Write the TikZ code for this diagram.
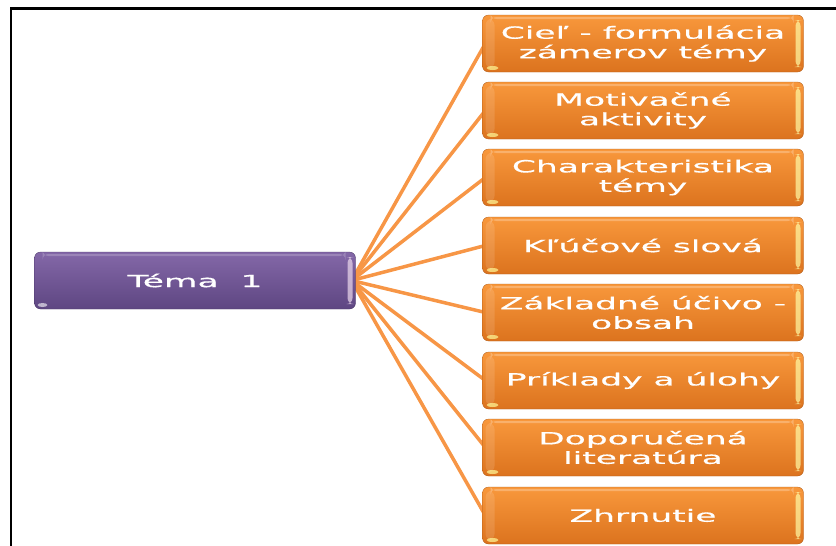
\documentclass[tikz,border=0pt]{standalone}
\usepackage{fontspec}
\usetikzlibrary{backgrounds}
\newfontfamily\boxfont[FakeStretch=2.05,FakeBold=0.6]{DejaVu Sans}
\definecolor{orTop}{HTML}{F8983C}
\definecolor{orBot}{HTML}{DC731E}
\definecolor{puTop}{HTML}{8468A8}
\definecolor{puBot}{HTML}{5E4682}
\definecolor{conn}{HTML}{F79646}
\begin{document}
\begin{tikzpicture}[x=1pt,y=-1pt,
  item/.style={rounded corners=6pt, minimum width=321pt, minimum height=57pt,
    inner sep=0pt, align=center, text=white,
    font=\boxfont\fontsize{16.8}{19.5}\selectfont,
    top color=orTop, bottom color=orBot, draw=orBot!80!black, line width=0.3pt,
    path picture={
      \fill[yellow!35!white,opacity=.7] ([xshift=-8pt,yshift=-5pt]path picture bounding box.north east) rectangle ([xshift=-3pt,yshift=5pt]path picture bounding box.south east);
      \fill[white,opacity=.25] ([xshift=8pt,yshift=-2pt]path picture bounding box.north west) rectangle ([xshift=-10pt,yshift=-4pt]path picture bounding box.north east);
      \fill[white,opacity=.12] ([xshift=3pt,yshift=-4pt]path picture bounding box.north west) rectangle ([xshift=12pt,yshift=4pt]path picture bounding box.south west);
      \fill[yellow!40!white,opacity=.7] ([xshift=10pt,yshift=4pt]path picture bounding box.south west) ellipse (6pt and 2pt);
    }},
  topic/.style={item, top color=puTop, bottom color=puBot, draw=puBot!80!black,
    path picture={
      \fill[white!85!violet,opacity=.7] ([xshift=-8pt,yshift=-5pt]path picture bounding box.north east) rectangle ([xshift=-3pt,yshift=5pt]path picture bounding box.south east);
      \fill[white,opacity=.2] ([xshift=8pt,yshift=-2pt]path picture bounding box.north west) rectangle ([xshift=-10pt,yshift=-4pt]path picture bounding box.north east);
      \fill[white,opacity=.6] ([xshift=8pt,yshift=4pt]path picture bounding box.south west) ellipse (5pt and 2pt);
    }},
  link/.style={draw=conn, line width=3.5pt}
]
\useasboundingbox (0,0) rectangle (836,546);
\coordinate (bl) at (11,546);
\coordinate (tl) at (11,8.5);
\coordinate (tr) at (836,8.5);
\draw[line width=2.5pt] (bl) -- (tl) -- (tr);

\path (195,280.5) node[topic] (t) {Téma~~1};
\path (643,43.5)  node[item] (c1) {Cieľ - formulácia\\zámerov témy};
\path (643,110.5) node[item] (c2) {Motivačné\\aktivity};
\path (643,177.5) node[item] (c3) {Charakteristika\\témy};
\path (643,245.5) node[item] (c4) {Kľúčové slová};
\path (643,312.5) node[item] (c5) {Základné účivo -\\obsah};
\path (643,380.5) node[item] (c6) {Príklady a úlohy};
\path (643,447.5) node[item] (c7) {Doporučená\\literatúra};
\path (643,515.5) node[item] (c8) {Zhrnutie};

\begin{scope}[on background layer]
\foreach \c in {c1,c2,c3,c4,c5,c6,c7,c8}
  \draw[link] ([xshift=-4pt]t.east) -- ([xshift=3pt]\c.west);
\end{scope}
\end{tikzpicture}
\end{document}
